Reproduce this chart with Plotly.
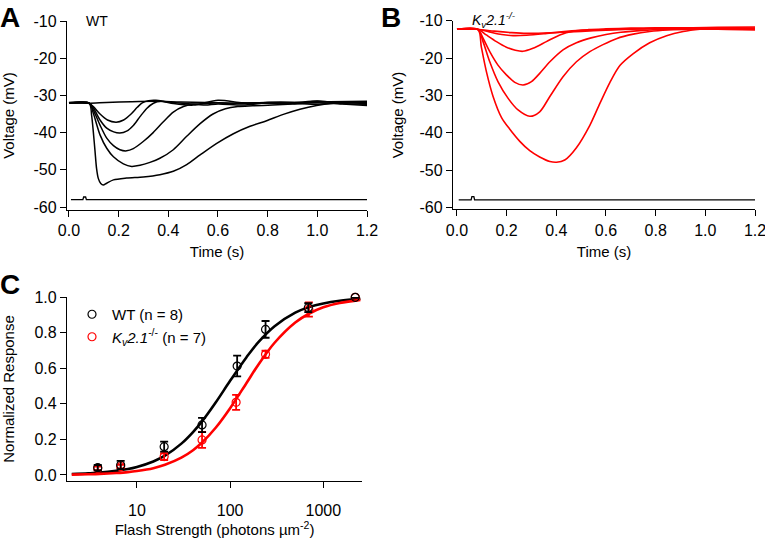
import plotly.graph_objects as go

FONT = "Liberation Sans, Arial, sans-serif"

# ---------------- Panel A : WT photovoltage traces ----------------
wt_t1 = [0, 0.08, 0.15, 0.25, 0.35, 0.45, 0.55, 0.65, 0.75, 0.85, 0.95, 1.05, 1.2]
wt_v1 = [-32.0, -32.1, -31.9, -31.7, -31.6, -31.8, -31.9, -32.1, -32.0, -31.8, -31.9, -31.7, -31.6]

wt_t2 = [0, 0.08, 0.098, 0.125, 0.155, 0.19, 0.22, 0.25, 0.275, 0.295, 0.32, 0.35, 0.4, 0.5, 0.6, 0.7, 0.8, 0.9, 1.0, 1.1, 1.2]
wt_v2 = [-32.1, -32.1, -33.0, -35.0, -36.6, -37.2, -36.6, -35.0, -33.2, -32.0, -31.4, -31.3, -31.8, -32.3, -32.0, -32.2, -31.9, -32.0, -31.5, -32.2, -32.4]

wt_t3 = [0, 0.08, 0.098, 0.125, 0.152, 0.18, 0.205, 0.232, 0.26, 0.286, 0.313, 0.34, 0.37, 0.42, 0.5, 0.6, 0.7, 0.8, 0.9, 1.0, 1.1, 1.2]
wt_v3 = [-31.9, -32.0, -33.3, -36.6, -38.8, -39.8, -40.1, -39.6, -38.0, -35.7, -33.5, -32.1, -31.6, -32.2, -32.6, -31.3, -32.0, -32.1, -32.2, -31.6, -31.9, -31.8]

wt_t4 = [0, 0.082, 0.098, 0.125, 0.152, 0.179, 0.205, 0.232, 0.259, 0.299, 0.339, 0.38, 0.42, 0.461, 0.5, 0.55, 0.6, 0.7, 0.8, 0.9, 1.0, 1.1, 1.2]
wt_v4 = [-32.1, -32.1, -33.9, -38.0, -41.5, -43.5, -44.6, -44.9, -44.3, -42.4, -40.0, -37.1, -34.5, -33.0, -32.4, -32.6, -32.3, -32.6, -32.0, -32.1, -32.4, -32.0, -32.2]

wt_t5 = [0, 0.082, 0.098, 0.125, 0.152, 0.179, 0.219, 0.252, 0.286, 0.326, 0.366, 0.42, 0.474, 0.528, 0.58, 0.63, 0.68, 0.74, 0.82, 0.9, 1.0, 1.1, 1.2]
wt_v5 = [-32.0, -32.1, -34.8, -40.6, -44.2, -46.5, -48.4, -49.1, -48.8, -48.0, -46.9, -44.6, -41.0, -37.6, -35.0, -33.6, -33.0, -32.8, -32.6, -32.3, -32.0, -32.3, -32.7]

wt_t6 = [0, 0.082, 0.091, 0.098, 0.105, 0.111, 0.118, 0.128, 0.138, 0.152, 0.179, 0.232, 0.299, 0.366, 0.42, 0.474, 0.528, 0.595, 0.662, 0.729, 0.796, 0.863, 0.93, 0.997, 1.064, 1.13, 1.2]
wt_v6 = [-32.1, -32.2, -35.3, -39.8, -45.1, -49.6, -52.3, -53.7, -54.1, -53.6, -52.7, -52.2, -51.9, -51.3, -50.4, -48.6, -46.0, -42.9, -40.3, -38.3, -36.8, -35.1, -33.7, -32.7, -32.1, -31.8, -31.9]

stimA_t = [0.008, 0.056, 0.059, 0.067, 0.070, 1.2]
stimA_v = [-58, -58, -57.3, -57.3, -58, -58]

# ---------------- Panel B : Kv2.1-/- traces ----------------
ko_t1 = [0, 0.08, 0.15, 0.22, 0.28, 0.35, 0.45, 0.55, 0.65, 0.75, 0.85, 0.95, 1.05, 1.2]
ko_v1 = [-12.3, -12.3, -12.8, -13.2, -13.4, -13.3, -13.0, -12.7, -12.4, -12.2, -12.0, -11.9, -11.8, -11.7]

ko_t2 = [0, 0.08, 0.13, 0.18, 0.226, 0.28, 0.35, 0.42, 0.5, 0.6, 0.7, 0.8, 0.9, 1.0, 1.1, 1.2]
ko_v2 = [-12.3, -12.3, -13.0, -13.7, -14.0, -13.9, -13.5, -13.0, -12.6, -12.4, -12.2, -12.1, -12.0, -12.0, -12.1, -12.3]

ko_t3 = [0, 0.085, 0.118, 0.159, 0.199, 0.235, 0.265, 0.306, 0.36, 0.414, 0.468, 0.53, 0.6, 0.7, 0.8, 0.9, 1.0, 1.1, 1.2]
ko_v3 = [-12.3, -12.3, -13.8, -15.6, -17.1, -17.9, -18.2, -17.4, -15.6, -13.8, -12.8, -12.4, -12.2, -12.0, -11.9, -11.9, -12.0, -12.1, -12.0]

ko_t4 = [0, 0.085, 0.105, 0.132, 0.165, 0.199, 0.233, 0.266, 0.30, 0.333, 0.374, 0.427, 0.481, 0.54, 0.6, 0.66, 0.75, 0.85, 0.95, 1.05, 1.2]
ko_v4 = [-12.3, -12.4, -14.7, -18.3, -21.9, -24.5, -26.5, -27.2, -26.3, -24.1, -21.0, -17.8, -15.9, -14.6, -13.7, -13.1, -12.6, -12.3, -12.1, -12.0, -12.2]

ko_t5 = [0, 0.085, 0.105, 0.132, 0.165, 0.206, 0.246, 0.293, 0.333, 0.374, 0.427, 0.481, 0.535, 0.588, 0.642, 0.71, 0.776, 0.85, 0.95, 1.05, 1.2]
ko_v5 = [-12.3, -12.4, -15.6, -21.0, -26.3, -30.8, -33.9, -35.6, -34.4, -30.3, -25.0, -21.0, -18.3, -16.4, -14.8, -13.6, -12.9, -12.5, -12.3, -12.3, -12.5]

ko_t6 = [0, 0.085, 0.098, 0.118, 0.145, 0.18, 0.212, 0.253, 0.293, 0.333, 0.374, 0.401, 0.434, 0.481, 0.535, 0.575, 0.616, 0.656, 0.71, 0.776, 0.844, 0.911, 0.978, 1.05, 1.2]
ko_v6 = [-12.3, -12.4, -17.0, -23.5, -30.2, -36.0, -39.0, -42.3, -44.8, -46.5, -47.7, -47.9, -47.3, -44.0, -38.0, -32.2, -26.5, -22.0, -18.8, -15.9, -14.0, -12.9, -12.3, -12.0, -12.1]

stimB_t = [0.007, 0.057, 0.060, 0.068, 0.071, 1.2]
stimB_v = [-58, -58, -57.1, -57.1, -58, -58]

# ---------------- Panel C : intensity-response ----------------
wt_flash = [3.8, 6.7, 19.6, 50, 119, 240, 690, 2200]
wt_resp = [0.041, 0.056, 0.159, 0.281, 0.612, 0.818, 0.940, 0.998]
wt_sem = [0.015, 0.023, 0.028, 0.040, 0.058, 0.047, 0.025, 0.0]

ko_flash = [3.8, 6.7, 19.6, 50, 116, 240, 700, 2200]
ko_resp = [0.037, 0.047, 0.103, 0.197, 0.408, 0.678, 0.930, 0.998]
ko_sem = [0.010, 0.010, 0.019, 0.045, 0.042, 0.020, 0.040, 0.0]

fit_x = [2, 3, 4, 6, 8, 10, 15, 20, 30, 40, 50, 70, 100, 150, 200, 300, 500, 700, 1000, 1500, 2500]
wt_fit = [0.005, 0.009, 0.013, 0.023, 0.033, 0.045, 0.076, 0.108, 0.176, 0.241, 0.301, 0.407, 0.529, 0.662, 0.745, 0.836, 0.912, 0.943, 0.964, 0.979, 0.990]
ko_fit = [0.002, 0.004, 0.006, 0.011, 0.016, 0.022, 0.038, 0.057, 0.097, 0.139, 0.182, 0.265, 0.375, 0.517, 0.618, 0.743, 0.857, 0.906, 0.942, 0.966, 0.984]

v_tickvals = [-60, -50, -40, -30, -20, -10]
v_ticktext = ["-60", "-50", "-40", "-30", "-20", "-10"]
t_tickvals = [0.0, 0.2, 0.4, 0.6, 0.8, 1.0, 1.2]
c_xtickvals = [10, 100, 1000]
c_xticktext = ["10", "100", "1000"]
c_ytickvals = [0.0, 0.2, 0.4, 0.6, 0.8, 1.0]

W, H = 765, 538
RED = "#ff0000"

fig = go.Figure()

wt_traces = [(wt_t1, wt_v1), (wt_t2, wt_v2), (wt_t3, wt_v3), (wt_t4, wt_v4), (wt_t5, wt_v5), (wt_t6, wt_v6)]
ko_traces = [(ko_t1, ko_v1), (ko_t2, ko_v2), (ko_t3, ko_v3), (ko_t4, ko_v4), (ko_t5, ko_v5), (ko_t6, ko_v6)]

for t, v in wt_traces:
    fig.add_trace(go.Scatter(x=t, y=v, mode="lines", line=dict(color="black", width=1.5, shape="spline", smoothing=0.8),
                             xaxis="x", yaxis="y", showlegend=False, hoverinfo="skip"))
fig.add_trace(go.Scatter(x=stimA_t, y=stimA_v, mode="lines", line=dict(color="black", width=1.3),
                         xaxis="x", yaxis="y", showlegend=False, hoverinfo="skip"))

for t, v in ko_traces:
    fig.add_trace(go.Scatter(x=t, y=v, mode="lines", line=dict(color=RED, width=1.6, shape="spline", smoothing=0.8),
                             xaxis="x2", yaxis="y2", showlegend=False, hoverinfo="skip"))
fig.add_trace(go.Scatter(x=stimB_t, y=stimB_v, mode="lines", line=dict(color="black", width=1.3),
                         xaxis="x2", yaxis="y2", showlegend=False, hoverinfo="skip"))

# Panel C
fig.add_trace(go.Scatter(x=fit_x, y=wt_fit, mode="lines", line=dict(color="black", width=2.6, shape="spline"),
                         xaxis="x3", yaxis="y3", showlegend=False, hoverinfo="skip"))
fig.add_trace(go.Scatter(x=fit_x, y=ko_fit, mode="lines", line=dict(color=RED, width=2.6, shape="spline"),
                         xaxis="x3", yaxis="y3", showlegend=False, hoverinfo="skip"))
fig.add_trace(go.Scatter(x=ko_flash, y=ko_resp, mode="markers",
                         marker=dict(symbol="circle-open", size=8, color=RED, line=dict(width=1.2, color=RED)),
                         error_y=dict(type="data", array=ko_sem, color=RED, thickness=1.8, width=4),
                         xaxis="x3", yaxis="y3", name="<i>K<sub>v</sub>2.1</i><sup>-/-</sup> (n = 7)",
                         legendrank=2, cliponaxis=False))
fig.add_trace(go.Scatter(x=wt_flash, y=wt_resp, mode="markers",
                         marker=dict(symbol="circle-open", size=8, color="black", line=dict(width=1.2, color="#222222")),
                         error_y=dict(type="data", array=wt_sem, color="black", thickness=1.8, width=4),
                         xaxis="x3", yaxis="y3", name="WT (n = 8)", legendrank=1, cliponaxis=False))

axis_common = dict(showline=True, linecolor="black", linewidth=1.3, ticks="outside", ticklen=6, tickwidth=1.3,
                   tickcolor="black", showgrid=False, zeroline=False, automargin=False,
                   ticklabeloverflow="allow",
                   tickfont=dict(size=16, color="black", family=FONT),
                   title_font=dict(size=15, color="black", family=FONT))

fig.update_layout(
    width=W, height=H, margin=dict(l=0, r=0, t=0, b=0, autoexpand=False),
    paper_bgcolor="white", plot_bgcolor="white",
    font=dict(family=FONT, size=15, color="black"),
    xaxis=dict(domain=[67 / W, 367 / W], range=[-0.008, 1.2], tickvals=t_tickvals, tickformat=".1f",
               title=dict(text="Time (s)", standoff=8), anchor="y", **axis_common),
    yaxis=dict(domain=[1 - 210 / H, 1 - 21 / H], range=[-60.8, -10], tickvals=v_tickvals, ticktext=v_ticktext,
               title=dict(text="Voltage (mV)", standoff=15), anchor="x", **axis_common),
    xaxis2=dict(domain=[453 / W, 755 / W], range=[-0.016, 1.2], tickvals=t_tickvals, tickformat=".1f",
                title=dict(text="Time (s)", standoff=8), anchor="y2", **axis_common),
    yaxis2=dict(domain=[1 - 209.3 / H, 1 - 20.7 / H], range=[-60.5, -10], tickvals=v_tickvals, ticktext=v_ticktext,
                title=dict(text="Voltage (mV)", standoff=12), anchor="x2", **axis_common),
    xaxis3=dict(domain=[67 / W, 362 / W], type="log", range=[0.25, 3.415], tickvals=c_xtickvals, ticktext=c_xticktext,
                ticklabelstandoff=9,
                title=dict(text="Flash Strength (photons µm<sup>-2</sup>)", standoff=2), anchor="y3", **axis_common),
    yaxis3=dict(domain=[1 - 481 / H, 1 - 297 / H], range=[-0.034, 1.0], tickvals=c_ytickvals, tickformat=".1f",
                title=dict(text="Normalized Response", standoff=16), anchor="x3", **axis_common),
    showlegend=True,
    legend=dict(x=72 / W, y=1 - 298 / H, xanchor="left", yanchor="top", bgcolor="rgba(0,0,0,0)",
                font=dict(size=15, family=FONT, color="black"), tracegroupgap=0),
)

ann_font = dict(family=FONT, color="black")
fig.add_annotation(text="<b>A</b>", x=-2 / W, y=1 - 0 / H, xref="paper", yref="paper", xanchor="left", yanchor="top",
                   showarrow=False, font=dict(size=28, **ann_font))
fig.add_annotation(text="<b>B</b>", x=379 / W, y=1 - 0 / H, xref="paper", yref="paper", xanchor="left", yanchor="top",
                   showarrow=False, font=dict(size=28, **ann_font))
fig.add_annotation(text="<b>C</b>", x=-2 / W, y=1 - 267 / H, xref="paper", yref="paper", xanchor="left", yanchor="top",
                   showarrow=False, font=dict(size=28, **ann_font))
fig.add_annotation(text="WT", x=84 / W, y=1 - 21 / H, xref="paper", yref="paper", xanchor="left", yanchor="middle",
                   showarrow=False, font=dict(size=14, **ann_font))
fig.add_annotation(text="<i>K<sub>v</sub>2.1<sup>-/-</sup></i>", x=470 / W, y=1 - 20 / H, xref="paper", yref="paper",
                   xanchor="left", yanchor="middle", showarrow=False, font=dict(size=14, **ann_font))

fig.write_html("out.html", config={"displayModeBar": False},
               post_script="document.body.style.margin='0';document.body.style.padding='0';"
                           "document.documentElement.style.overflow='hidden';")
